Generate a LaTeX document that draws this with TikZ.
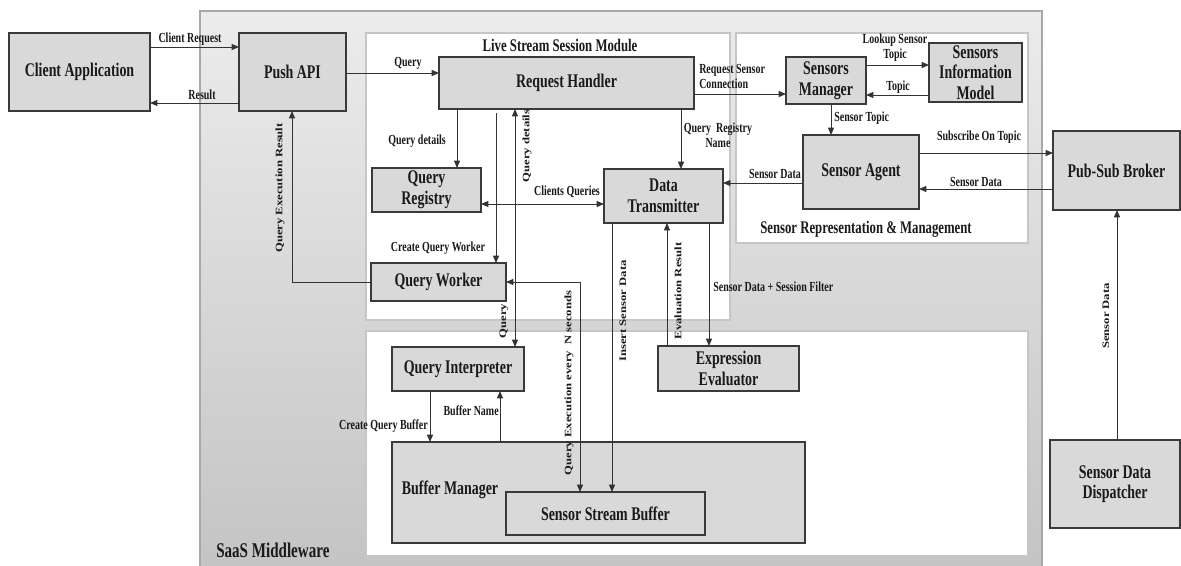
\documentclass[tikz,border=0pt]{standalone}
\usepackage{fontspec}
\usepackage{graphicx}
\setmainfont[FakeStretch=0.72]{Liberation Serif}
\newfontfamily\rfont{Liberation Serif}
\usetikzlibrary{arrows.meta}
\definecolor{boxfill}{HTML}{D9D9D9}
\definecolor{boxdraw}{HTML}{3A3A3A}
\definecolor{linec}{HTML}{333333}
\definecolor{modline}{HTML}{C6C6C6}
\definecolor{saasline}{HTML}{A8A8A8}
\definecolor{saastop}{HTML}{ECECEC}
\definecolor{saasbot}{HTML}{C4C4C4}
\definecolor{txt}{HTML}{1A1A1A}
\newcommand\bx[7][box]{\node[#1, minimum width={(#5-#3)*0.75pt}, minimum height={(#6-#4)*0.75pt}] (#2) at ({(#3+#5)/2},{(#4+#6)/2}) {#7};}
\newcommand\rt[1]{\scalebox{1}[0.78]{#1}}
\begin{document}
\begin{tikzpicture}[x=0.75pt,y=-0.75pt,
  box/.style={draw=boxdraw, fill=boxfill, line width=1pt, inner sep=0pt, outer sep=0pt, align=center, text=txt, font=\bfseries\fontsize{14.5}{15.5}\selectfont},
  mod/.style={draw=modline, fill=white, line width=1.2pt, inner sep=0pt, outer sep=0pt},
  saas/.style={draw=saasline, line width=1.2pt, top color=saastop, bottom color=saasbot, inner sep=0pt, outer sep=0pt},
  boxtext/.style={inner sep=0pt, text=txt, font=\bfseries\fontsize{14.5}{15.5}\selectfont},
  modt/.style={inner sep=0pt, text=txt, font=\bfseries\fontsize{13.3}{15}\selectfont},
  lbl/.style={font=\bfseries\fontsize{10.4}{11.25}\selectfont, inner sep=0pt, align=center, text=txt},
  rlbl/.style={rotate=90, inner sep=0pt, text=txt, font=\rfont\bfseries\fontsize{9.5}{11}\selectfont},
  conn/.style={draw=linec, line width=0.75pt, -{Triangle[length=5.5pt,width=4.5pt]}},
  conn2/.style={draw=linec, line width=0.75pt, {Triangle[length=5.5pt,width=4.5pt]}-{Triangle[length=5.5pt,width=4.5pt]}},
]
\useasboundingbox (0,0) rectangle (1181,565);
\fill[white] (0,0) rectangle (1181,565);
% containers
\bx[saas]{saas}{200}{11}{1042}{567}{}
\bx[mod]{lssm}{366}{33}{730}{320}{}
\bx[mod]{srm}{736}{33}{1028}{243}{}
\bx[mod]{lower}{366}{331}{1028}{556}{}
\node[modt] (lssmt) at (560,45) {Live Stream Session Module};
\node[modt] (srmt) at (866,229) {Sensor Representation \& Management};
\node[modt, font=\bfseries\fontsize{15.7}{17}\selectfont, anchor=west] (saast) at (216,550) {SaaS Middleware};
% boxes
\bx{cli}{9}{33}{150}{111}{Client Application}
\bx{push}{239}{33}{346}{111}{Push API}
\bx{rh}{439}{57}{694}{109}{Request Handler}
\bx{sm}{786}{57}{866}{104}{Sensors\\Manager}
\bx{sim}{929}{43}{1022}{102}{Sensors\\Information\\Model}
\bx{sa}{803}{135}{919}{209}{Sensor Agent}
\bx{psb}{1053}{131}{1180}{210}{Pub-Sub Broker}
\bx{dt}{604}{169}{723}{223}{Data\\Transmitter}
\bx{qr}{372}{168}{481}{212}{Query\\Registry}
\bx{qw}{371}{263}{506}{301}{Query Worker}
\bx{ee}{658}{346}{799}{391}{Expression\\Evaluator}
\bx{qi}{392}{347}{524}{391}{Query Interpreter}
\bx{bm}{392}{442}{805}{543}{}
\bx{ssb}{506}{492}{705}{535}{Sensor Stream Buffer}
\bx{sdd}{1050}{440}{1180}{528}{Sensor Data\\Dispatcher}
\node[boxtext] (bml) at (450,490) {Buffer Manager};
\coordinate (cqw) at (496,113);
\coordinate (qerx) at (292,282);
\coordinate (qenx) at (580,282);
% connectors
\draw[conn] (cli.east |- 0,47) -- (push.west |- 0,47);
\node[lbl] (l1) at (190,39) {Client Request};
\draw[conn] (push.west |- 0,103) -- (cli.east |- 0,103);
\node[lbl] (l2) at (202,95) {Result};
\draw[conn] (push.east |- 0,73) -- (rh.west |- 0,73);
\node[lbl] (l3) at (408,63) {Query};
\draw[conn] (rh.east |- 0,94) -- (sm.west |- 0,94);
\node[lbl, align=left, anchor=west] (l4) at (699,76) {Request Sensor\\Connection};
\draw[conn] (sm.east |- 0,65) -- (sim.west |- 0,65);
\node[lbl] (l5) at (895,48) {Lookup Sensor\\Topic};
\draw[conn] (sim.west |- 0,95) -- (sm.east |- 0,95);
\node[lbl] (l6) at (898,87) {Topic};
\draw[conn] (sm.south -| 831,0) -- (sa.north -| 831,0);
\node[lbl, anchor=west] (l7) at (834,118) {Sensor Topic};
\draw[conn] (sa.east |- 0,153) -- (psb.west |- 0,153);
\node[lbl] (l8) at (979,137) {Subscribe On Topic};
\draw[conn] (psb.west |- 0,189) -- (sa.east |- 0,189);
\node[lbl] (l9) at (976,182) {Sensor Data};
\draw[conn] (sa.west |- 0,183) -- (dt.east |- 0,183);
\node[lbl] (l10) at (775,174) {Sensor Data};
\draw[conn] (rh.south -| 681,0) -- (dt.north -| 681,0);
\node[lbl] (l11) at (718,135) {Query\ \ Registry\\Name};
\draw[conn] (rh.south -| 457,0) -- (qr.north -| 457,0);
\node[lbl] (l12) at (417,141) {Query details};
\draw[conn2] (qr.east |- 0,204) -- (dt.west |- 0,204);
\node[lbl] (l13) at (567,192) {Clients Queries};
\draw[conn] (cqw) -- (qw.north -| cqw);
\node[lbl] (l14) at (438,248) {Create Query Worker};
\draw[conn2] (rh.south -| 515,0) -- (qi.north -| 515,0);
\node[rlbl] (l15) at (527,146) {\rt{Query details}};
\node[rlbl] (l16) at (504,321) {\rt{Query}};
\draw[conn2] (qw.east) -- (qenx) -- (ssb.north -| qenx);
\node[rlbl] (l17) at (569,383) {\rt{Query Execution every\ \ N seconds}};
\draw[conn] (dt.south -| 612,0) -- (ssb.north -| 612,0);
\node[rlbl] (l18) at (623,311) {\rt{Insert Sensor Data}};
\draw[conn] (ee.north -| 667,0) -- (dt.south -| 667,0);
\node[rlbl] (l19) at (678,291) {\rt{Evaluation Result}};
\draw[conn] (dt.south -| 709,0) -- (ee.north -| 709,0);
\node[lbl, anchor=west] (l20) at (713,287) {Sensor Data + Session Filter};
\draw[conn] (qw.west) -- (qerx) -- (push.south -| qerx);
\node[rlbl] (l21) at (280,188) {\rt{Query Execution Result}};
\draw[conn] (qi.south -| 430,0) -- (bm.north -| 430,0);
\node[lbl, anchor=east] (l22) at (428,426) {Create Query Buffer};
\draw[conn] (bm.north -| 500,0) -- (qi.south -| 500,0);
\node[lbl, anchor=east] (l23) at (499,411) {Buffer Name};
\draw[conn] (sdd.north -| 1117,0) -- (psb.south -| 1117,0);
\node[rlbl] (l24) at (1106,316) {\rt{Sensor Data}};
\end{tikzpicture}
\end{document}
